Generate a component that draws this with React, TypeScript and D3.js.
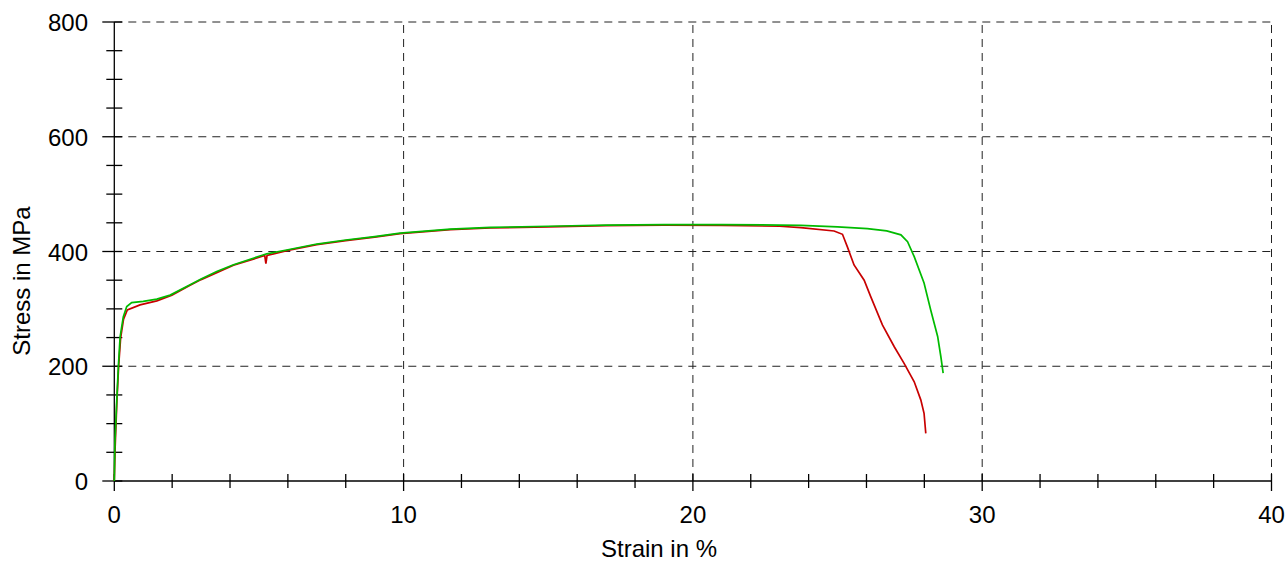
import React, { useEffect, useRef } from "react";
import * as d3 from "d3";

const width = 1287;
const height = 561;

// strain in %, stress in MPa
const greenStrain = [0, 0.02, 0.08, 0.14, 0.2, 0.31, 0.43, 0.6, 1.0, 1.47, 1.93, 2.62, 3.0, 3.54, 4.12, 5.27, 6, 7, 8, 9, 9.88, 11.62, 13, 15, 17, 19, 21, 23, 23.73, 25, 26.03, 26.7, 27.19, 27.42, 27.65, 27.99, 28.22, 28.46, 28.57, 28.65];
const greenStress = [0, 65, 135, 199, 251, 286, 304, 311, 313, 317, 324, 342, 352, 365, 377, 396, 403, 413, 420, 426, 432, 439, 442, 444, 446, 447, 447, 446, 445.5, 443, 440, 436, 429, 417, 391, 345, 298, 252, 217, 188];

const redStrain = [0, 0.03, 0.09, 0.15, 0.22, 0.32, 0.45, 0.89, 1.47, 1.99, 2.62, 3.0, 4.12, 5.2, 5.24, 5.28, 6, 7, 8, 9, 9.88, 11.62, 13, 15, 17, 19, 21, 23, 23.73, 24.88, 25.17, 25.34, 25.57, 25.92, 26.15, 26.55, 26.96, 27.3, 27.65, 27.88, 27.99, 28.05];
const redStress = [0, 60, 140, 200, 250, 282, 298, 307, 314, 324, 341, 351, 376, 393, 379, 393, 402, 412, 419, 425, 431, 438, 441, 443, 445, 446, 445.5, 444, 441.5, 435.7, 430, 408, 376.5, 350, 321, 272, 234, 205, 173, 141, 118, 83];

const xMajor = [0, 10, 20, 30, 40];
const xMinor = [2, 4, 6, 8, 12, 14, 16, 18, 22, 24, 26, 28, 32, 34, 36, 38];
const yMajor = [0, 200, 400, 600, 800];
const yMinor = [50, 100, 150, 250, 300, 350, 450, 500, 550, 650, 700, 750];

const font = "'Liberation Sans', Arial, sans-serif";

const App = () => {
  const svgRef = useRef(null);

  useEffect(() => {
    const svg = d3.select(svgRef.current);
    svg.selectAll("*").remove();

    const x = d3.scaleLinear().domain([0, 40]).range([114.3, 1271.5]);
    const y = d3.scaleLinear().domain([0, 800]).range([481, 22]);

    // dashed grid
    svg.append("g")
      .selectAll("line")
      .data(yMajor.filter((d) => d > 0))
      .enter()
      .append("line")
      .attr("x1", x(0))
      .attr("x2", x(40))
      .attr("y1", (d) => y(d))
      .attr("y2", (d) => y(d))
      .style("stroke", "#222")
      .style("stroke-width", 1)
      .style("stroke-dasharray", "8,6");

    svg.append("g")
      .selectAll("line")
      .data(xMajor.filter((d) => d > 0))
      .enter()
      .append("line")
      .attr("x1", (d) => x(d))
      .attr("x2", (d) => x(d))
      .attr("y1", y(0))
      .attr("y2", y(800))
      .style("stroke", "#222")
      .style("stroke-width", 1)
      .style("stroke-dasharray", "8,6");

    // axes
    const axis = svg.append("g").style("stroke", "#000").style("stroke-width", 1.3);
    axis.append("line").attr("x1", x(0)).attr("x2", x(40)).attr("y1", y(0)).attr("y2", y(0));
    axis.append("line").attr("x1", x(0)).attr("x2", x(0)).attr("y1", y(0)).attr("y2", y(800));

    axis.selectAll(".xmaj")
      .data(xMajor)
      .enter()
      .append("line")
      .attr("x1", (d) => x(d))
      .attr("x2", (d) => x(d))
      .attr("y1", y(0) - 7)
      .attr("y2", y(0) + 10);
    axis.selectAll(".xmin")
      .data(xMinor)
      .enter()
      .append("line")
      .attr("x1", (d) => x(d))
      .attr("x2", (d) => x(d))
      .attr("y1", y(0) - 7)
      .attr("y2", y(0) + 7);
    axis.selectAll(".ymaj")
      .data(yMajor)
      .enter()
      .append("line")
      .attr("x1", x(0) - 12)
      .attr("x2", x(0) + 8)
      .attr("y1", (d) => y(d))
      .attr("y2", (d) => y(d));
    axis.selectAll(".ymin")
      .data(yMinor)
      .enter()
      .append("line")
      .attr("x1", x(0) - 8)
      .attr("x2", x(0) + 8)
      .attr("y1", (d) => y(d))
      .attr("y2", (d) => y(d));

    // tick labels
    svg.append("g")
      .selectAll("text")
      .data(xMajor)
      .enter()
      .append("text")
      .attr("x", (d) => x(d))
      .attr("y", y(0) + 42)
      .attr("text-anchor", "middle")
      .style("font-family", font)
      .style("font-size", "24px")
      .text((d) => d);

    svg.append("g")
      .selectAll("text")
      .data(yMajor)
      .enter()
      .append("text")
      .attr("x", 88)
      .attr("y", (d) => y(d) + 9)
      .attr("text-anchor", "end")
      .style("font-family", font)
      .style("font-size", "24px")
      .text((d) => d);

    // axis titles
    svg.append("text")
      .attr("x", 659)
      .attr("y", 557)
      .attr("text-anchor", "middle")
      .style("font-family", font)
      .style("font-size", "24px")
      .text("Strain in %");

    svg.append("text")
      .attr("transform", "translate(30,281) rotate(-90)")
      .attr("text-anchor", "middle")
      .style("font-family", font)
      .style("font-size", "24px")
      .text("Stress in MPa");

    // curves
    const line = d3.line().x((d) => x(d[0])).y((d) => y(d[1]));
    const red = redStrain.map((s, i) => [s, redStress[i]]);
    const green = greenStrain.map((s, i) => [s, greenStress[i]]);

    svg.append("path")
      .datum(red)
      .attr("d", line)
      .style("fill", "none")
      .style("stroke", "#c80000")
      .style("stroke-width", 1.7);

    svg.append("path")
      .datum(green)
      .attr("d", line)
      .style("fill", "none")
      .style("stroke", "#00bb00")
      .style("stroke-width", 1.7);
  }, []);

  return (
    <svg
      ref={svgRef}
      width={width}
      height={height}
      style={{ position: "absolute", left: 0, top: 0, background: "#fff" }}
    ></svg>
  );
};

export default App;
